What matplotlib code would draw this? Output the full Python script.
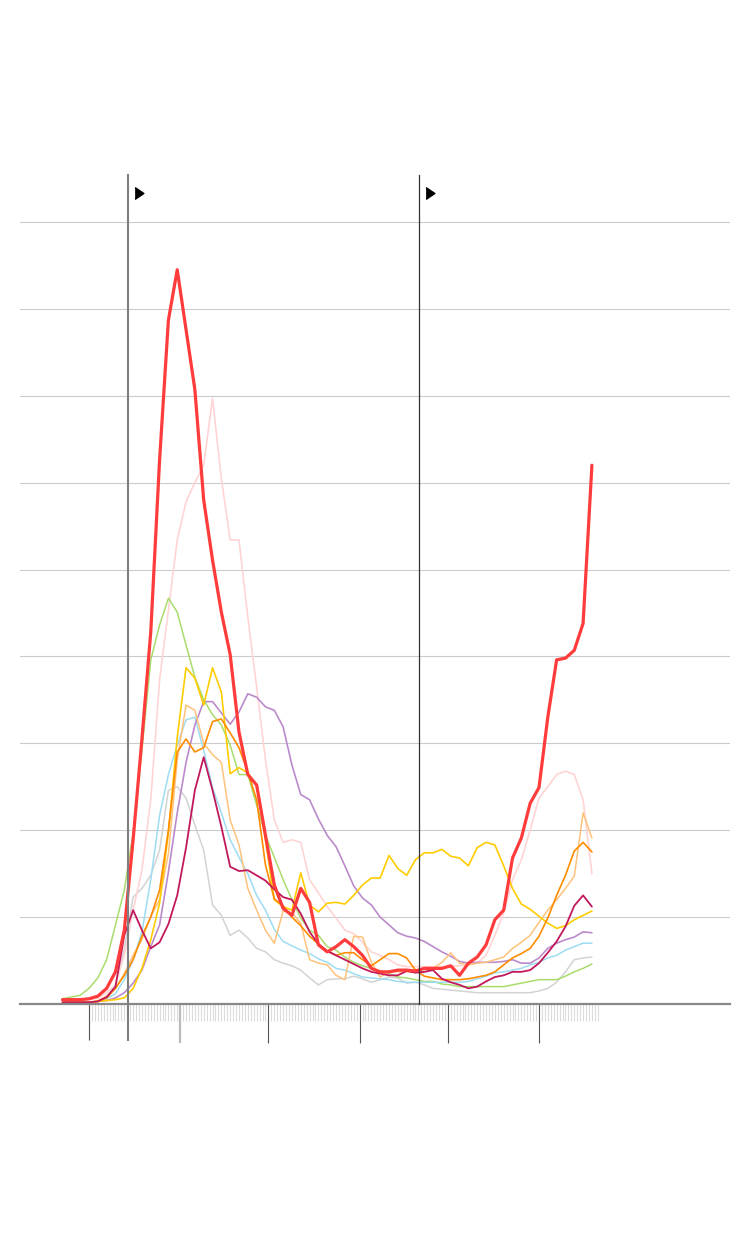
"""Daily curves for ten regions, March to August 2020, with two event markers."""
import matplotlib

matplotlib.use("Agg")
import matplotlib.pyplot as plt
import matplotlib.transforms as mtransforms

# day 0 = 1 March 2020, one sample every three days
DAYS = list(range(-9, 172, 3))
MONTH_STARTS = [0, 31, 61, 92, 122, 153]  # Mar 1 .. Aug 1
LAST_DAY = 173
EVENT_DAYS = [13.3, 112.2]

RED = [5, 5, 5, 6, 9, 18, 37, 85, 189, 305,
       428, 626, 787, 845, 776, 707, 580, 511, 451, 402,
       313, 264, 252, 194, 137, 110, 102, 133, 117, 68,
       60, 66, 74, 66, 56, 41, 37, 37, 39, 39,
       38, 41, 41, 41, 44, 33, 47, 54, 68, 97,
       108, 168, 191, 231, 249, 330, 396, 398, 407, 438,
       620]
PINK = [5, 5, 5, 5, 7, 13, 22, 56, 108, 154,
        235, 373, 453, 534, 578, 600, 620, 697, 605, 534,
        534, 445, 365, 281, 212, 186, 189, 186, 143, 128,
        112, 99, 85, 81, 71, 60, 56, 51, 45, 43,
        43, 43, 43, 43, 43, 44, 45, 47, 56, 79,
        105, 143, 166, 200, 237, 250, 264, 268, 264, 235,
        150]
GREEN = [6, 8, 10, 18, 30, 51, 91, 131, 197, 292,
         396, 436, 467, 451, 413, 376, 350, 333, 321, 298,
         264, 264, 229, 194, 169, 143, 120, 99, 85, 79,
         66, 62, 54, 48, 44, 41, 38, 35, 31, 30,
         28, 26, 26, 23, 22, 20, 20, 20, 20, 20,
         20, 22, 24, 26, 28, 28, 28, 32, 37, 41,
         46]
YELLOW = [2, 2, 2, 2, 3, 4, 5, 7, 18, 41,
          74, 116, 197, 307, 387, 375, 344, 387, 359, 265,
          272, 266, 252, 189, 120, 112, 108, 151, 114, 106,
          116, 117, 115, 125, 137, 145, 145, 171, 156, 148,
          166, 174, 174, 178, 170, 168, 159, 180, 186, 183,
          159, 133, 115, 109, 101, 93, 87, 90, 97, 102,
          107]
LIGHT_ORANGE = [2, 2, 2, 2, 4, 9, 18, 35, 56, 74,
                101, 120, 173, 281, 344, 338, 300, 287, 278, 212,
                183, 133, 108, 85, 70, 107, 105, 93, 51, 47,
                45, 33, 28, 78, 77, 48, 31, 37, 37, 37,
                37, 37, 41, 48, 59, 47, 45, 47, 48, 51,
                54, 64, 71, 79, 94, 108, 120, 133, 147, 220,
                191]
ORANGE = [2, 2, 2, 2, 3, 7, 18, 33, 51, 78,
          100, 131, 200, 290, 305, 290, 295, 325, 328, 312,
          295, 267, 235, 160, 121, 113, 100, 90, 78, 69,
          61, 56, 59, 59, 51, 44, 51, 58, 58, 53,
          39, 32, 30, 28, 28, 28, 29, 31, 33, 37,
          45, 53, 58, 64, 78, 99, 125, 148, 176, 186,
          175]
LIGHT_BLUE = [2, 2, 2, 2, 3, 6, 12, 28, 51, 83,
              143, 217, 264, 298, 327, 330, 292, 249, 220, 189,
              169, 150, 125, 108, 86, 72, 67, 62, 58, 52,
              48, 41, 39, 35, 31, 30, 29, 28, 26, 25,
              25, 25, 25, 25, 25, 25, 26, 29, 32, 36,
              37, 39, 41, 45, 48, 53, 56, 62, 66, 70,
              70]
PURPLE = [2, 2, 2, 2, 3, 4, 7, 13, 24, 39,
          66, 91, 152, 220, 278, 321, 348, 348, 335, 322,
          336, 357, 353, 342, 338, 319, 275, 241, 235, 213,
          194, 181, 159, 136, 122, 114, 100, 91, 82, 78,
          76, 72, 66, 60, 55, 49, 47, 48, 48, 48,
          49, 51, 47, 47, 53, 64, 70, 74, 77, 83,
          82]
MAGENTA = [2, 2, 2, 2, 3, 8, 20, 79, 108, 85,
           64, 71, 92, 125, 180, 246, 284, 246, 204, 158,
           153, 154, 148, 142, 132, 123, 120, 104, 83, 69,
           61, 56, 51, 46, 41, 37, 35, 33, 33, 38,
           36, 37, 39, 29, 25, 22, 18, 20, 26, 31,
           33, 37, 37, 39, 47, 59, 72, 89, 113, 125,
           112]
GREY = [2, 2, 2, 2, 3, 8, 22, 63, 123, 133,
        148, 177, 246, 250, 237, 206, 177, 114, 102, 79,
        85, 76, 64, 60, 51, 47, 44, 39, 30, 22,
        28, 29, 29, 32, 29, 25, 28, 31, 30, 24,
        25, 22, 18, 17, 16, 15, 14, 13, 13, 13,
        13, 13, 13, 13, 15, 18, 25, 37, 51, 53,
        54]

# drawing order: background curves first, the highlighted red one last
SERIES = [
    (GREY, "#d3d3d3", 1.1),
    (PINK, "#ffd4d4", 1.2),
    (GREEN, "#a8dc6c", 1.1),
    (LIGHT_BLUE, "#9edcf4", 1.1),
    (PURPLE, "#bb8acb", 1.2),
    (LIGHT_ORANGE, "#ffc27c", 1.1),
    (YELLOW, "#ffcc00", 1.2),
    (ORANGE, "#ff8c00", 1.2),
    (MAGENTA, "#c2185b", 1.3),
    (RED, "#ff3b3b", 2.3),
]


def main() -> None:
    fig = plt.figure(figsize=(7.5, 12.44), dpi=100)
    ax = fig.add_axes([20 / 750, 240 / 1244, 710 / 750, 829 / 1244])

    for values, color, width in SERIES:
        ax.plot(DAYS, values, color=color, linewidth=width,
                solid_joinstyle="round", solid_capstyle="round")

    ax.set_xlim(-23.46, 217.95)
    ax.set_ylim(0, 954)

    # horizontal grid, no y labels
    ax.set_yticks(range(100, 1000, 100))
    ax.yaxis.grid(True, color="#cccccc", linewidth=0.8)
    ax.set_axisbelow(True)
    ax.tick_params(axis="y", length=0, labelleft=False)

    for side in ("left", "right", "top"):
        ax.spines[side].set_visible(False)
    ax.spines["bottom"].set_color("#888888")
    ax.spines["bottom"].set_linewidth(1.6)

    # month ticks and daily minor ticks, without labels
    ax.set_xticks(MONTH_STARTS)
    ax.set_xticks(range(0, LAST_DAY + 1), minor=True)
    ax.tick_params(axis="x", which="major", length=28, width=0.8,
                   color="#555555", labelbottom=False)
    ax.tick_params(axis="x", which="minor", length=12.5, width=0.8,
                   color="#dcdcdc")
    major = ax.xaxis.get_major_ticks()
    major[0].tick1line.set_markersize(26)
    major[1].tick1line.set_markeredgecolor("#bbbbbb")
    major[1].tick1line.set_markeredgewidth(1.6)

    # event lines with small flags at the top
    blend = mtransforms.blended_transform_factory(ax.transData, ax.transAxes)
    ax.plot([EVENT_DAYS[0]] * 2, [1, -0.0434], color="#7f7f7f",
            linewidth=1.5, transform=blend, clip_on=False, zorder=5)
    ax.plot([EVENT_DAYS[1]] * 2, [1, 0], color="#333333",
            linewidth=0.9, transform=blend, clip_on=False, zorder=5)
    flag = mtransforms.offset_copy(blend, fig=fig, x=7.9, y=0, units="points")
    for day in EVENT_DAYS:
        ax.plot(day, 0.978, marker=[(-1, -1.35), (1, 0), (-1, 1.35)],
                markersize=8.5, color="black", linestyle="none",
                transform=flag, clip_on=False)

    fig.savefig("out.png", dpi=100)
    plt.close(fig)


if __name__ == "__main__":
    main()
